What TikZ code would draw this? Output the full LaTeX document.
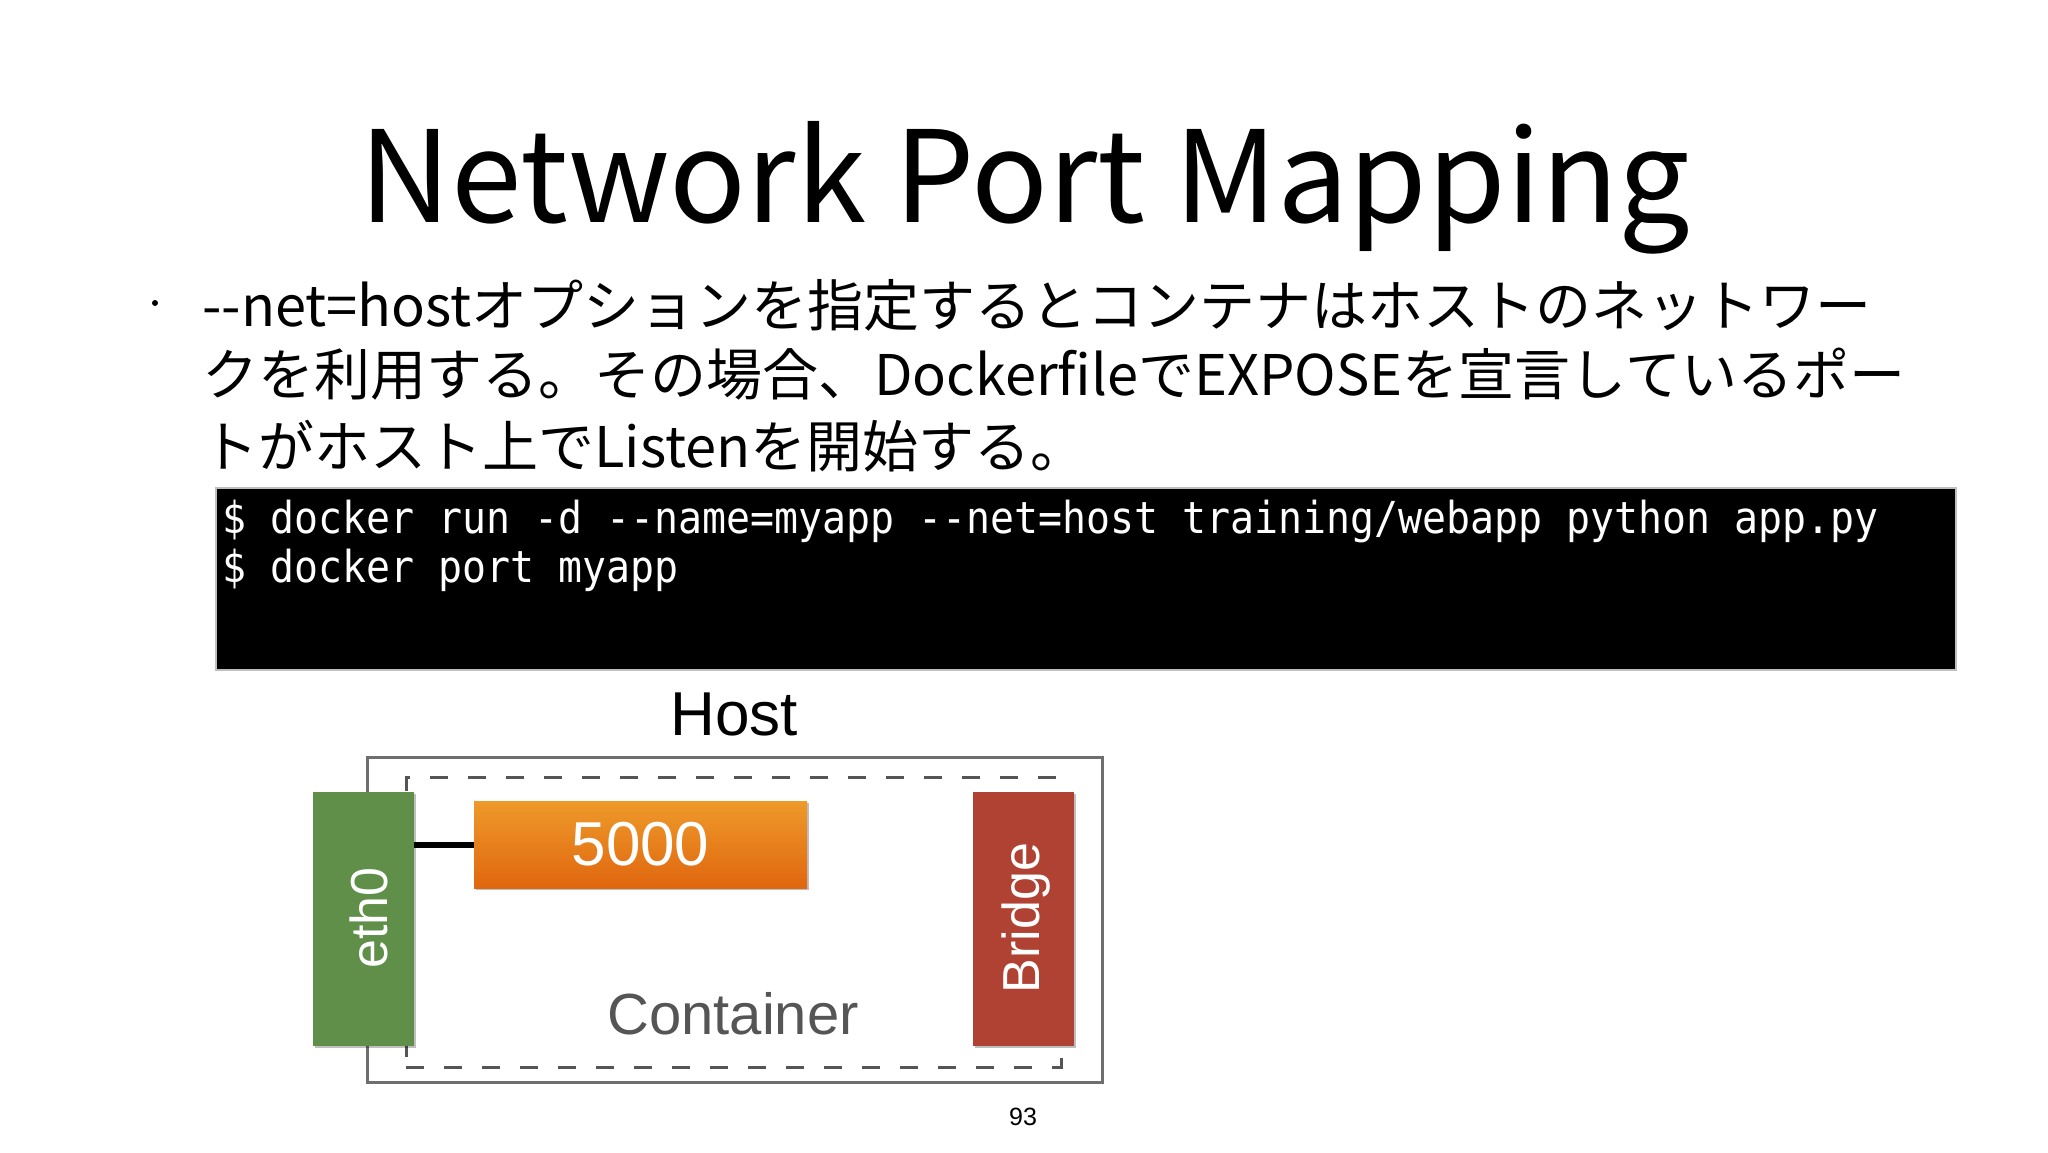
\documentclass[tikz,border=0pt]{standalone}
\usepackage{fontspec}
\setmainfont{Liberation Sans}
\newfontfamily\jpfont{Noto Sans CJK JP}
\newfontfamily\codefont[FakeStretch=0.906]{DejaVu Sans Mono}
\usetikzlibrary{shadows}
\definecolor{ethgreen}{HTML}{608F4A}
\definecolor{bridgered}{HTML}{B04233}
\definecolor{porttop}{HTML}{EE9A2A}
\definecolor{portbot}{HTML}{E0660F}
\definecolor{hostgray}{HTML}{6E6E6E}
\definecolor{dashgray}{HTML}{555555}
\definecolor{labelgray}{HTML}{555555}
\tikzset{
  softshadow/.style={drop shadow={shadow xshift=2pt, shadow yshift=-2pt, opacity=0.25, fill=black}},
  netbox/.style={inner sep=0, minimum width=101, minimum height=254, softshadow},
  boxlabel/.style={inner sep=0, text=white, rotate=90, font=\fontsize{52}{52}\selectfont},
  bodyline/.style={anchor=base west, inner sep=0, font=\jpfont\fontsize{56}{56}\selectfont},
  codeline/.style={anchor=base west, inner sep=0, text=white, font=\codefont\fontsize{44}{44}\selectfont},
}
\begin{document}
\begin{tikzpicture}[x=1pt,y=-1pt]
\useasboundingbox[fill=white] (0,0) rectangle (2048,1152);

% title
\node[anchor=base, inner sep=0] (title) at (1025,222) {\jpfont\fontsize{127}{130}\selectfont Network Port Mapping};

% bullet text
\node[circle, fill=black, minimum size=6, inner sep=0] (bullet) at (155,303) {};
\node[bodyline] (l1) at (202,326) {-{}-net=hostオプションを指定するとコンテナはホストのネットワー};
\node[bodyline] (l2) at (202,395) {クを利用する。その場合、DockerfileでEXPOSEを宣言しているポー};
\node[bodyline] (l3) at (202,467) {トがホスト上でListenを開始する。};

% code box
\node[draw=gray!50, line width=1.5, fill=black, minimum width=1740, minimum height=182, anchor=north west, inner sep=0] (codebox) at (215,487) {};
\node[codeline] (c1) at (222,533) {\$ docker run -d -{}-name=myapp -{}-net=host training/webapp python app.py};
\node[codeline] (c2) at (222,582) {\$ docker port myapp};

% diagram
\node[anchor=base, inner sep=0, font=\fontsize{62}{62}\selectfont] (hostlabel) at (734,735) {Host};
\node[draw=hostgray, line width=2.7, minimum width=735, minimum height=325, anchor=north west, inner sep=0] (host) at (366,756) {};
\node[draw=dashgray, line width=2.7, dash pattern=on 18pt off 20pt, minimum width=655, minimum height=290, anchor=north west, inner sep=0] (container) at (405,776) {};

\node[netbox, fill=ethgreen] (eth0) at (363.5,919) {};
\node[boxlabel] (ethlabel) at (369,918) {eth0};
\node[netbox, fill=bridgered] (bridge) at (1023.5,919) {};
\node[boxlabel] (bridgelabel) at (1026,918) {Bridge};

\node[inner sep=0, minimum width=333, minimum height=87, top color=porttop, bottom color=portbot, softshadow, text=white, font=\fontsize{62}{62}\selectfont] (port) at (640.5,844.5) {5000};

\draw[line width=6] (eth0.east |- port.west) -- (port.west);

\node[anchor=base, inner sep=0, text=labelgray, font=\fontsize{58}{58}\selectfont] (containerlabel) at (733,1034) {Container};
\node[anchor=base, inner sep=0, font=\fontsize{25}{25}\selectfont] (pagenum) at (1023,1125) {93};
\end{tikzpicture}
\end{document}
